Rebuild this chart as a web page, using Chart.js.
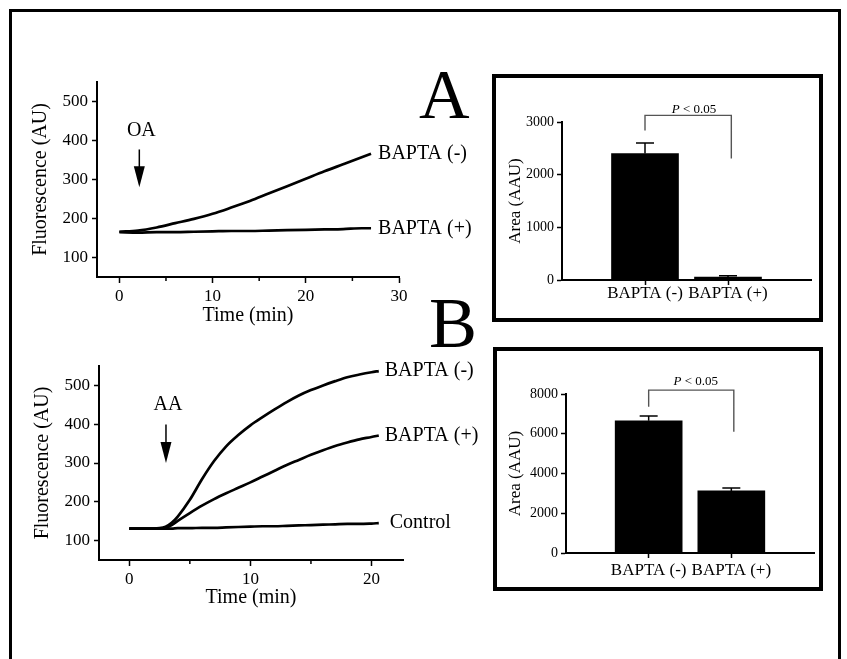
<!DOCTYPE html>
<html>
<head>
<meta charset="utf-8">
<script src="https://cdn.jsdelivr.net/npm/chart.js@4.4.0/dist/chart.umd.min.js"></script>
<style>
  body { margin: 0; width: 847px; height: 659px; overflow: hidden; background: #fff; font-family: "Liberation Serif", "Times New Roman", serif; }
  .frame { position: absolute; left: 9px; top: 9px; width: 832px; height: 700px; border: 3px solid #000; box-sizing: border-box; }
  .box { position: absolute; border: 4px solid #000; box-sizing: border-box; }
  .wrap { position: absolute; }
  .letter { position: absolute; line-height: 1; color: #000; }
</style>
</head>
<body>
<div class="frame"></div>
<div class="box" style="left:492px;top:74px;width:331px;height:248px"></div>
<div class="box" style="left:493px;top:347px;width:330px;height:244px"></div>
<div class="wrap" style="left:0;top:60px;width:480px;height:280px"><canvas id="lineA"></canvas></div>
<div class="wrap" style="left:0;top:340px;width:480px;height:280px"><canvas id="lineB"></canvas></div>
<div class="wrap" style="left:496px;top:78px;width:323px;height:240px"><canvas id="barA"></canvas></div>
<div class="wrap" style="left:497px;top:351px;width:322px;height:236px"><canvas id="barB"></canvas></div>
<div class="letter" style="left:419px;top:60px;font-size:70px">A</div>
<div class="letter" style="left:429px;top:287px;font-size:72px">B</div>
<script>
// panel A: oleic acid
var timeA = [0, 2, 4, 6, 8, 10, 12, 14, 16, 18, 20, 22, 24, 26, 27];
var bapMinusA = [166, 169, 177, 188, 199, 212, 228, 245, 264, 283, 302, 321, 339, 357, 366];
var bapPlusA = [165, 164, 165, 165, 166, 167, 168, 168, 169, 170, 171, 172, 173, 175, 175];
var namesA = ["BAPTA (-)", "BAPTA (+)"];

// panel B: arachidonic acid
var timeB = [0, 1, 2, 2.5, 3, 3.5, 4, 5, 6, 7, 8, 9, 10, 11, 12, 13, 14, 15, 16, 17, 18, 19, 20, 20.6];
var bapMinusB = [131, 131, 131, 132, 136, 146, 162, 205, 258, 305, 343, 372, 397, 418, 438, 457, 474, 488, 500, 511, 521, 528, 534, 537];
var bapPlusB = [131, 131, 131, 131, 133, 140, 151, 171, 190, 207, 222, 236, 250, 265, 280, 295, 308, 321, 333, 344, 353, 361, 367, 371];
var controlB = [131, 131, 131, 131, 131, 131, 132, 132, 133, 133, 134, 135, 136, 137, 137, 138, 139, 140, 141, 142, 143, 143, 144, 145];
var namesB = ["BAPTA (-)", "BAPTA (+)", "Control"];

// tick labels
var xTicksA = [0, 10, 20, 30];
var xMinorA = [5, 15, 25];
var xTicksB = [0, 10, 20];
var xMinorB = [5, 15];
var yTicksLine = [100, 200, 300, 400, 500];

// bar panels
var barCats = ["BAPTA (-)", "BAPTA (+)"];
var areaA = [2400, 55];
var errA = [200, 25];
var areaB = [6650, 3125];
var errB = [240, 150];
var yTicksBarA = [0, 1000, 2000, 3000];
var yTicksBarB = [0, 2000, 4000, 6000, 8000];

Chart.defaults.font.family = "'Liberation Serif', 'Times New Roman', serif";
Chart.defaults.color = "#000";

function setTicks(list) {
  return function (s) {
    s.ticks = list.map(function (v) { return { value: v }; });
  };
}

// labels at curve ends, the addition arrow, minor x ticks
var curveNotes = {
  id: "curveNotes",
  afterDatasetsDraw: function (chart, args, opts) {
    var ctx = chart.ctx;
    var xs = chart.scales.x, ys = chart.scales.y;
    ctx.save();
    ctx.fillStyle = "#000";
    ctx.strokeStyle = "#000";
    ctx.font = "20px 'Liberation Serif'";
    ctx.textBaseline = "middle";
    ctx.textAlign = "left";
    chart.data.datasets.forEach(function (ds, i) {
      var last = ds.data[ds.data.length - 1];
      ctx.fillText(ds.label, xs.getPixelForValue(last.x) + opts.gaps[i], ys.getPixelForValue(last.y));
    });
    var a = opts.arrow;
    var ax = xs.getPixelForValue(a.x);
    var y1 = ys.getPixelForValue(a.from), y2 = ys.getPixelForValue(a.to);
    ctx.lineWidth = 1.5;
    ctx.beginPath();
    ctx.moveTo(ax, y1);
    ctx.lineTo(ax, y2 - 18);
    ctx.stroke();
    ctx.beginPath();
    ctx.moveTo(ax - 5.5, y2 - 21);
    ctx.lineTo(ax + 5.5, y2 - 21);
    ctx.lineTo(ax, y2);
    ctx.closePath();
    ctx.fill();
    ctx.textAlign = "center";
    ctx.fillText(a.text, xs.getPixelForValue(a.textX), ys.getPixelForValue(a.textY));
    // short minor ticks
    ctx.lineWidth = 1.5;
    opts.minor.forEach(function (v) {
      var px = xs.getPixelForValue(v);
      ctx.beginPath();
      ctx.moveTo(px, xs.top);
      ctx.lineTo(px, xs.top + 4);
      ctx.stroke();
    });
    ctx.restore();
  }
};

function lineChart(id, times, series, names, cfg) {
  return new Chart(document.getElementById(id), {
    type: "line",
    data: {
      datasets: series.map(function (vals, i) {
        return {
          label: names[i],
          data: times.map(function (t, j) { return { x: t, y: vals[j] }; }),
          borderColor: "#000",
          borderWidth: 2.7,
          pointRadius: 0,
          cubicInterpolationMode: "monotone",
          fill: false
        };
      })
    },
    options: {
      responsive: true,
      maintainAspectRatio: false,
      animation: false,
      layout: { padding: { top: cfg.top, right: cfg.right, left: 0, bottom: 0 } },
      plugins: { legend: { display: false }, tooltip: { enabled: false }, curveNotes: cfg.notes },
      scales: {
        x: {
          type: "linear",
          min: cfg.xMin,
          max: cfg.xMax,
          border: { color: "#000", width: 2 },
          grid: { drawOnChartArea: false, tickLength: 6, tickColor: "#000", tickWidth: 1.5 },
          ticks: { font: { size: 17 }, padding: 3, maxRotation: 0, callback: function (v) { return String(v); } },
          afterBuildTicks: setTicks(cfg.xTicks),
          afterFit: function (s) { s.height = cfg.xHeight; },
          title: { display: true, text: "Time (min)", font: { size: 20 }, padding: { top: 0, bottom: cfg.xTitlePad } }
        },
        y: {
          min: 50,
          max: 550,
          border: { color: "#000", width: 2 },
          grid: { drawOnChartArea: false, tickLength: 5, tickColor: "#000", tickWidth: 1.5 },
          ticks: { font: { size: 17 }, padding: 4, callback: function (v) { return String(v); } },
          afterBuildTicks: setTicks(yTicksLine),
          afterFit: function (s) { s.width = cfg.yWidth; },
          title: { display: true, text: "Fluorescence (AU)", font: { size: 20 }, padding: { top: cfg.yTitlePad, bottom: 0 } }
        }
      }
    },
    plugins: [curveNotes]
  });
}

lineChart("lineA", timeA, [bapMinusA, bapPlusA], namesA, {
  top: 22, right: 81, xMin: -2.4, xMax: 30, xTicks: xTicksA,
  xHeight: 63, xTitlePad: 12.5, yWidth: 97, yTitlePad: 29,
  notes: { gaps: [7, 7], minor: xMinorA, arrow: { x: 2.14, from: 377, to: 280, text: "OA", textX: 2.36, textY: 425 } }
});

lineChart("lineB", timeB, [bapMinusB, bapPlusB, controlB], namesB, {
  top: 26, right: 77, xMin: -2.5, xMax: 22.6, xTicks: xTicksB,
  xHeight: 60, xTitlePad: 10, yWidth: 99, yTitlePad: 31,
  notes: { gaps: [6, 6, 11], minor: xMinorB, arrow: { x: 3.03, from: 399, to: 300, text: "AA", textX: 3.2, textY: 450 } }
});

// error bars and significance bracket
var barNotes = {
  id: "barNotes",
  afterDatasetsDraw: function (chart, args, opts) {
    var ctx = chart.ctx;
    var xs = chart.scales.x, ys = chart.scales.y;
    ctx.save();
    ctx.strokeStyle = "#000";
    ctx.lineWidth = 1.5;
    opts.values.forEach(function (v, i) {
      var x = xs.getPixelForValue(i + 1);
      var y0 = ys.getPixelForValue(v), y1 = ys.getPixelForValue(v + opts.errors[i]);
      ctx.beginPath();
      ctx.moveTo(x, y0);
      ctx.lineTo(x, y1);
      ctx.moveTo(x - 9, y1);
      ctx.lineTo(x + 9, y1);
      ctx.stroke();
    });
    var b = opts.bracket;
    var xl = xs.getPixelForValue(1), xr = xs.getPixelForValue(b.right);
    var yt = ys.getPixelForValue(b.top);
    ctx.strokeStyle = "#555";
    ctx.lineWidth = 1.4;
    ctx.beginPath();
    ctx.moveTo(xl, ys.getPixelForValue(b.leftEnd));
    ctx.lineTo(xl, yt);
    ctx.lineTo(xr, yt);
    ctx.lineTo(xr, ys.getPixelForValue(b.rightEnd));
    ctx.stroke();
    // "P < 0.05" with italic P
    var cx = xs.getPixelForValue(b.textX), cy = ys.getPixelForValue(b.textY);
    ctx.fillStyle = "#000";
    ctx.textBaseline = "middle";
    ctx.textAlign = "left";
    ctx.font = "italic 13px 'Liberation Serif'";
    var w1 = ctx.measureText("P").width;
    ctx.font = "13px 'Liberation Serif'";
    var w2 = ctx.measureText(" < 0.05").width;
    var sx = cx - (w1 + w2) / 2;
    ctx.font = "italic 13px 'Liberation Serif'";
    ctx.fillText("P", sx, cy);
    ctx.font = "13px 'Liberation Serif'";
    ctx.fillText(" < 0.05", sx + w1, cy);
    ctx.restore();
  }
};

function barChart(id, values, errors, yTicks, cfg) {
  return new Chart(document.getElementById(id), {
    type: "bar",
    data: {
      datasets: [{
        data: values.map(function (v, i) { return { x: i + 1, y: v }; }),
        backgroundColor: "#000",
        borderWidth: 0,
        barThickness: 67
      }]
    },
    options: {
      responsive: true,
      maintainAspectRatio: false,
      animation: false,
      layout: { padding: { top: cfg.top, right: cfg.right, left: 0, bottom: 0 } },
      plugins: {
        legend: { display: false },
        tooltip: { enabled: false },
        barNotes: { values: values, errors: errors, bracket: cfg.bracket }
      },
      scales: {
        x: {
          type: "linear",
          min: 0,
          max: 3,
          offset: false,
          border: { color: "#000", width: 2 },
          grid: { drawOnChartArea: false, offset: false, tickLength: 5, tickColor: "#000", tickWidth: 1.5 },
          ticks: {
            font: { size: 17, lineHeight: 1 }, padding: cfg.labelPad, maxRotation: 0, autoSkip: false,
            callback: function (v) { return barCats[v - 1] || ""; }
          },
          afterBuildTicks: setTicks([1, 2]),
          afterFit: function (s) { s.height = cfg.xHeight; }
        },
        y: {
          min: 0,
          max: yTicks[yTicks.length - 1],
          border: { color: "#000", width: 2 },
          grid: { drawOnChartArea: false, tickLength: 5, tickColor: "#000", tickWidth: 1.5 },
          ticks: { font: { size: 14 }, padding: 3, callback: function (v) { return String(v); } },
          afterBuildTicks: setTicks(yTicks),
          afterFit: function (s) { s.width = cfg.yWidth; },
          title: { display: true, text: "Area (AAU)", font: { size: 17 }, padding: { top: cfg.yTitlePad, bottom: 0 } }
        }
      }
    },
    plugins: [barNotes]
  });
}

barChart("barA", areaA, errA, yTicksBarA, {
  top: 44, right: 8, xHeight: 38, yWidth: 66, yTitlePad: 9.5, labelPad: 0,
  bracket: { right: 2.04, top: 3125, leftEnd: 2840, rightEnd: 2305, textX: 1.59, textY: 3239 }
});

barChart("barB", areaB, errB, yTicksBarB, {
  top: 43, right: 5, xHeight: 34, yWidth: 69, yTitlePad: 8.5, labelPad: 4,
  bracket: { right: 2.03, top: 8197, leftEnd: 7355, rightEnd: 6096, textX: 1.57, textY: 8615 }
});
</script>
</body>
</html>
